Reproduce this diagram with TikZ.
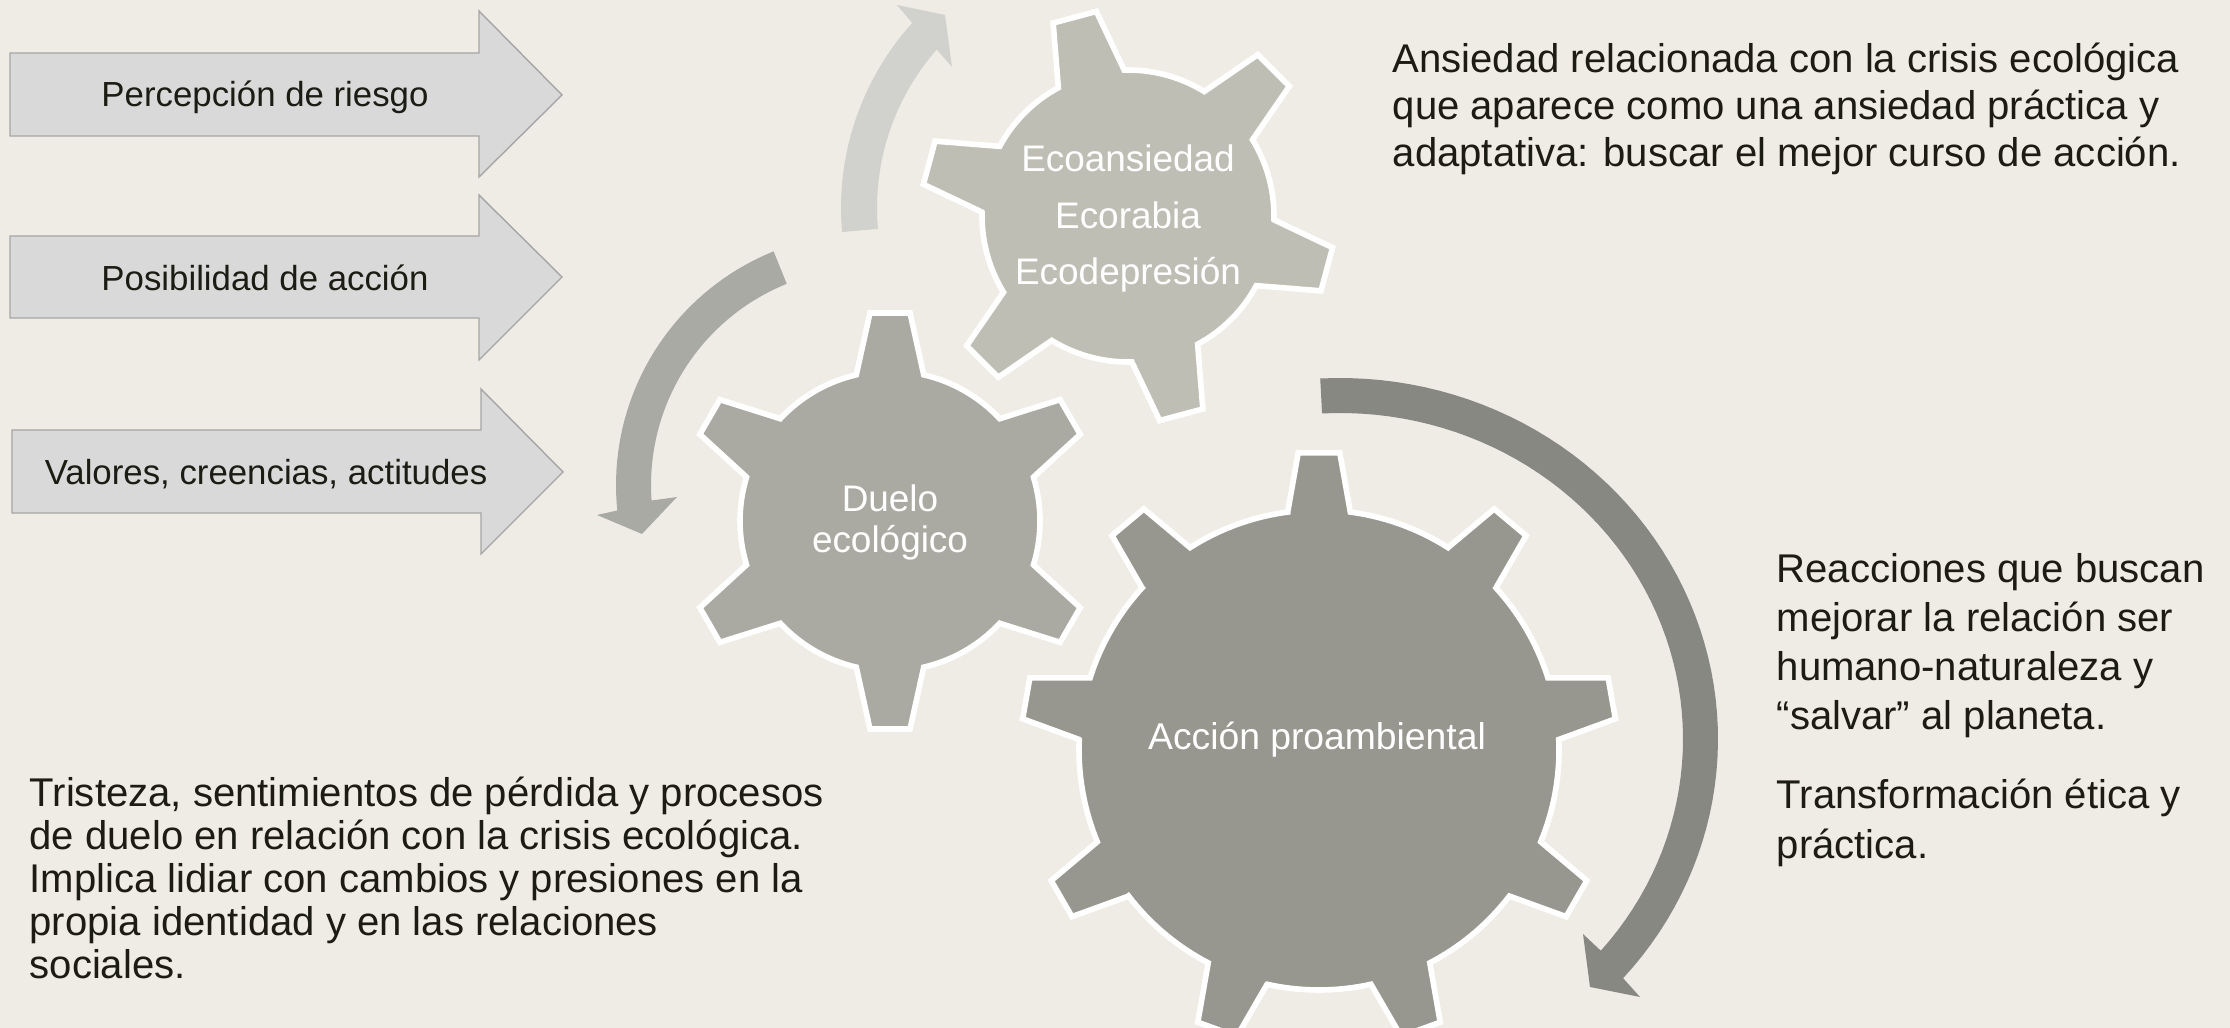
\documentclass[tikz,border=0pt]{standalone}
\usepackage{fontspec}
\setmainfont{Liberation Sans}
\definecolor{bgcol}{RGB}{238,236,228}
\definecolor{blockfill}{RGB}{217,217,217}
\definecolor{blockline}{RGB}{166,166,166}
\definecolor{gearAcol}{RGB}{190,190,181}
\definecolor{gearBcol}{RGB}{170,170,163}
\definecolor{gearCcol}{RGB}{151,151,143}
\definecolor{arrTopcol}{RGB}{209,209,206}
\definecolor{arrLeftcol}{RGB}{170,170,165}
\definecolor{arrRightcol}{RGB}{135,136,129}
\definecolor{inkcol}{RGB}{28,28,20}
% #1 centre, #2 teeth, #3 phase, #4 base radius, #5 tip radius,
% #6 base half angle, #7 tip half angle, #8 fill colour
\newcommand\drawmygear[8]{%
  \filldraw[gearshape, fill=#8, shift={#1}] ({#3-#6}:#4)
    \foreach \k [evaluate=\k as \gStart using {#3+360*(\k-1)/#2},
                 evaluate=\k as \gEnd using {#3+360*\k/#2}] in {1,...,#2} {
      -- ({\gStart-#6}:#4) -- ({\gStart-#7}:#5) -- ({\gStart+#7}:#5) -- ({\gStart+#6}:#4)
      -- plot[domain={\gStart+#6}:{\gEnd-#6}, samples=18] (\x:#4)
    } -- cycle;}
\begin{document}
\begin{tikzpicture}[x=0.01cm, y=-0.01cm,
  blockarrow/.style={fill=blockfill, draw=blockline, line width=0.4pt},
  arrowlabel/.style={anchor=base, inner sep=0pt, text=inkcol, font=\fontsize{9.9}{12}\selectfont},
  gearshape/.style={draw=white, line width=1.6pt},
  geartext/.style={anchor=base, inner sep=0pt, text=white, align=center},
  paratext/.style={anchor=base west, inner sep=0pt, text=inkcol, align=left},
  ]
\useasboundingbox (0,0) rectangle (2230,1028);
\clip (0,0) rectangle (2230,1028);
\fill[bgcol] (0,0) rectangle (2230,1028);

% block arrows
\draw[blockarrow] (10,53) -- (479,53) -- (479,11) -- (562,95) -- (479,177) -- (479,136) -- (10,136) -- cycle;
\draw[blockarrow] (10,236) -- (479,236) -- (479,195) -- (562,277) -- (479,360) -- (479,318) -- (10,318) -- cycle;
\draw[blockarrow] (12,430) -- (481,430) -- (481,389) -- (563,472) -- (481,554) -- (481,513) -- (12,513) -- cycle;
\node[arrowlabel] (lab1) at (265,107) {Percepción de riesgo};
\node[arrowlabel] (lab2) at (265,291) {Posibilidad de acción};
\node[arrowlabel] (lab3) at (266,485) {Valores, creencias, actitudes};

% curved arrows
\fill[arrTopcol] plot[domain=175:222.1, samples=40] ({1117+276*cos(\x)},{208+276*sin(\x)})
  -- (897,5) -- (945,15) -- (952,67)
  -- plot[domain=221.3:175, samples=40] ({1117+240*cos(\x)},{208+240*sin(\x)}) -- cycle;
\fill[arrLeftcol] plot[domain=248:174.2, samples=40] ({868+252*cos(\x)},{485+252*sin(\x)})
  -- (597,515) -- (642,534) -- (677,497)
  -- plot[domain=175.9:248, samples=40] ({868+217*cos(\x)},{485+217*sin(\x)}) -- cycle;
\fill[arrRightcol] plot[domain=267:401.5, samples=60] ({1340+378*cos(\x)},{739+361*sin(\x)})
  -- (1640,997) -- (1590,987) -- (1583,934)
  -- plot[domain=400.5:267, samples=60] ({1340+343*cos(\x)},{739+326*sin(\x)}) -- cycle;

% gears
\drawmygear{(1128,216)}{6}{15}{146}{207}{13.5}{6.2}{gearAcol}
\drawmygear{(890,521)}{6}{30}{150}{209}{13}{5.5}{gearBcol}
\drawmygear{(1319,750)}{9}{270}{240}{298}{7.5}{4}{gearCcol}

% gear texts (anchor = baseline of the last line)
\node[geartext, font=\fontsize{10.5}{16.2}\selectfont] (gA) at (1128,285) {Ecoansiedad\\Ecorabia\\Ecodepresión};
\node[geartext, font=\fontsize{10.5}{11.7}\selectfont] (gB) at (890,553) {Duelo\\ecológico};
\node[geartext, font=\fontsize{10.6}{12}\selectfont] (gC) at (1317,750) {Acción proambiental};

% paragraphs (anchor = baseline of the last line)
\node[paratext, font=\fontsize{11.4}{13.5}\selectfont] (pA) at (1392,167)
  {Ansiedad relacionada con la crisis ecológica\\que aparece como una ansiedad práctica y\\adaptativa: buscar el mejor curso de acción.};
\node[paratext, font=\fontsize{11.4}{12.16}\selectfont] (pB) at (29,978)
  {Tristeza, sentimientos de pérdida y procesos\\de duelo en relación con la crisis ecológica.\\Implica lidiar con cambios y presiones en la\\propia identidad y en las relaciones\\sociales.};
\node[paratext, font=\fontsize{11.4}{13.94}\selectfont] (pC1) at (1776,730)
  {Reacciones que buscan\\mejorar la relación ser\\humano-naturaleza y\\“salvar” al planeta.};
\node[paratext, font=\fontsize{11.4}{13.94}\selectfont] (pC2) at (1776,858)
  {Transformación ética y\\práctica.};
\end{tikzpicture}
\end{document}
